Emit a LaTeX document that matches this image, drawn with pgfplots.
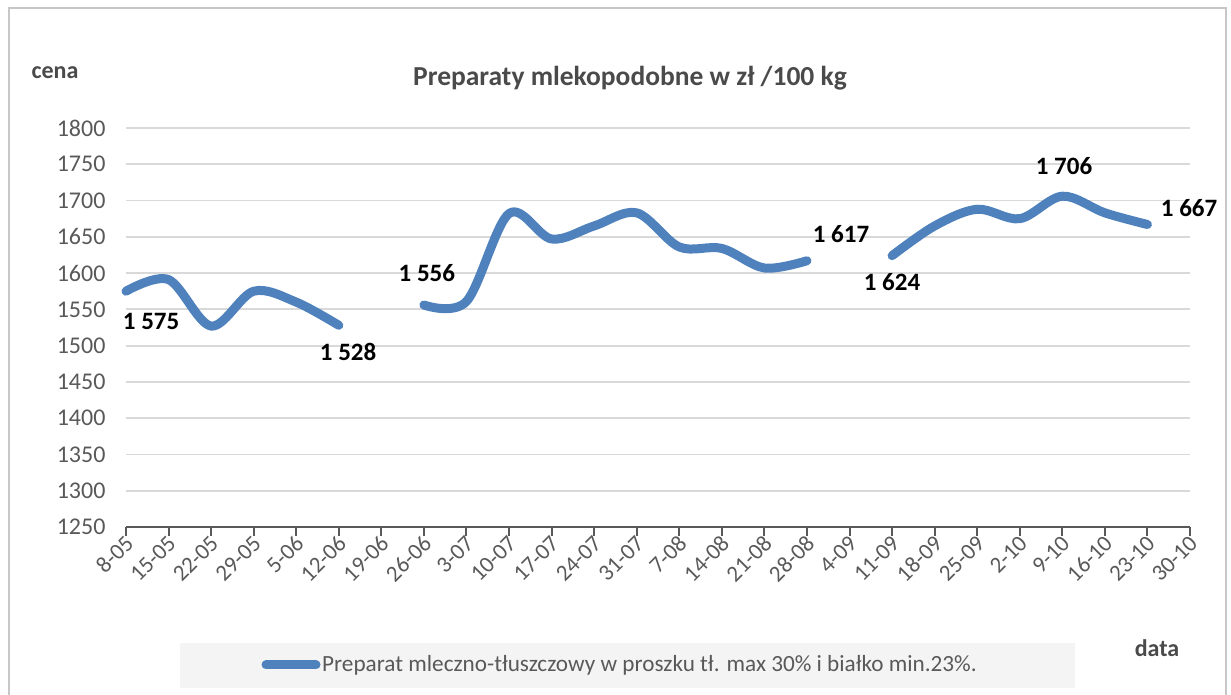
\documentclass[border=0pt]{standalone}
\usepackage{pgfplots}
\pgfplotsset{compat=1.18}
\usepackage{fontspec}
\setmainfont{Carlito}
\definecolor{serblue}{HTML}{4F81BD}
\definecolor{txtgrey}{HTML}{595959}
\definecolor{titgrey}{HTML}{4A4A4A}
\definecolor{gridgrey}{HTML}{D9D9D9}
\definecolor{axgrey}{HTML}{595959}
\definecolor{legbg}{HTML}{F4F4F4}
\newcommand{\fs}{\fontsize{24}{28}\selectfont}
\newcommand{\fl}{\fontsize{25}{29}\selectfont}
\begin{document}
\begin{tikzpicture}
\useasboundingbox (0,0) rectangle (1231pt,695pt);
% outer frame
\draw[color=gridgrey!80!gray, line width=1.5pt] (9pt,0pt) -- (9pt,687pt) -- (1226pt,687pt) -- (1226pt,0pt);
\begin{axis}[
  at={(126pt,168pt)}, anchor=south west,
  scale only axis, width=1064pt, height=399pt,
  xmin=0, xmax=25, ymin=1250, ymax=1800,
  clip=false,
  axis x line*=bottom, axis y line*=left,
  y axis line style={draw=none},
  x axis line style={draw=axgrey, line width=2.5pt},
  xtick={0,...,25},
  xticklabels={8-05,15-05,22-05,29-05,5-06,12-06,19-06,26-06,3-07,10-07,17-07,24-07,31-07,7-08,14-08,21-08,28-08,4-09,11-09,18-09,25-09,2-10,9-10,16-10,23-10,30-10},
  xticklabel style={rotate=45, anchor=east, font=\fontsize{23}{27}\selectfont, text=txtgrey, inner sep=2pt, yshift=-5pt, xshift=2pt},
  ytick={1250,1300,...,1800},
  yticklabel style={font=\fs, text=txtgrey, xshift=-8pt, /pgf/number format/assume math mode=true, /pgf/number format/1000 sep={}},
  xtick style={draw=axgrey, line width=2pt},
  ytick style={draw=none},
  tick align=outside, major tick length=9pt,
  ymajorgrids, major grid style={draw=gridgrey, line width=1.8pt},
]
\addplot[serblue, line width=9pt, line cap=round, smooth, tension=0.55] coordinates {
(0,1575) (1,1591) (2,1527) (3,1575) (4,1560) (5,1528)};
\addplot[serblue, line width=9pt, line cap=round, smooth, tension=0.55] coordinates {
(7,1556) (8,1561) (9,1682) (10,1647) (11,1665) (12,1683) (13,1636) (14,1634) (15,1607) (16,1617)};
\addplot[serblue, line width=9pt, line cap=round, smooth, tension=0.55] coordinates {
(18,1624) (19,1665) (20,1688) (21,1675) (22,1706) (23,1683) (24,1667)};
\node[font=\fl\bfseries] at (axis cs:0.59,1533) {1 575};
\node[font=\fl\bfseries] at (axis cs:5.22,1491) {1 528};
\node[font=\fl\bfseries] at (axis cs:7.07,1600) {1 556};
\node[font=\fl\bfseries] at (axis cs:16.8,1654) {1 617};
\node[font=\fl\bfseries] at (axis cs:18.0,1588) {1 624};
\node[font=\fl\bfseries] at (axis cs:22.04,1748) {1 706};
\node[font=\fl\bfseries] at (axis cs:24.98,1690) {1 667};
\end{axis}
\node[font=\fs\bfseries, text=titgrey] at (55pt,622pt) {cena};
\node[font=\fontsize{27.5}{32}\selectfont\bfseries, text=titgrey] at (630pt,617pt) {Preparaty mlekopodobne w zł /100 kg};
\node[font=\fs\bfseries, text=titgrey] at (1157pt,47pt) {data};
\fill[legbg] (180pt,7pt) rectangle (1075pt,52pt);
\draw[serblue, line width=9pt, line cap=round] (266pt,30pt) -- (316pt,30pt);
\node[font=\fontsize{23.2}{27}\selectfont, text=txtgrey, anchor=west, inner sep=0pt] at (322pt,30pt) {Preparat mleczno-tłuszczowy w proszku tł. max 30\% i białko min.23\%.};
\end{tikzpicture}
\end{document}
